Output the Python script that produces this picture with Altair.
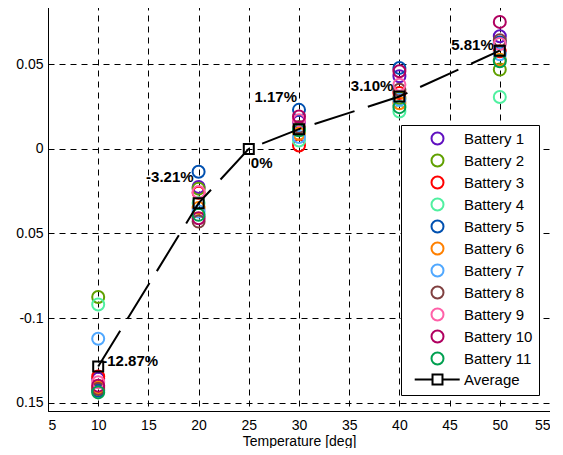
import altair as alt
import pandas as pd

# ---- data ----
temps = [10, 20, 30, 40, 50]
battery_names = [f"Battery {i}" for i in range(1, 12)]
b1 = [-0.1360, -0.0225, 0.0160, 0.0430, 0.0666]
b2 = [-0.0876, -0.0235, 0.0120, 0.0300, 0.0469]
b3 = [-0.1346, -0.0260, 0.0020, 0.0330, 0.0577]
b4 = [-0.0920, -0.0320, 0.0050, 0.0221, 0.0307]
b5 = [-0.1430, -0.0135, 0.0231, 0.0479, 0.0630]
b6 = [-0.1410, -0.0350, 0.0090, 0.0270, 0.0528]
b7 = [-0.1123, -0.0370, 0.0070, 0.0290, 0.0560]
b8 = [-0.1420, -0.0430, 0.0130, 0.0350, 0.0642]
b9 = [-0.1380, -0.0255, 0.0170, 0.0380, 0.0620]
b10 = [-0.1400, -0.0410, 0.0192, 0.0459, 0.0751]
b11 = [-0.1440, -0.0390, 0.0110, 0.0247, 0.0518]
battery_values = [b1, b2, b3, b4, b5, b6, b7, b8, b9, b10, b11]

avg_temps = [10, 20, 25, 30, 40, 50]
avg_vals = [-0.1287, -0.0321, 0.0, 0.0117, 0.0310, 0.0581]
avg_labels = ["-12.87%", "-3.21%", "0%", "1.17%", "3.10%", "5.81%"]

x_ticks = [5, 10, 15, 20, 25, 30, 35, 40, 45, 50, 55]
y_ticks = [-0.15, -0.1, -0.05, 0.0, 0.05]
y_tick_labels = ["0.15", "-0.1", "0.05", "0", "0.05"]

# ---- styles ----
colors = ["#6010C0", "#60A000", "#FF0000", "#50F0A0", "#0050B0", "#FF8000",
          "#50A8FF", "#804040", "#FF60A8", "#B00060", "#00A050"]
avg_path = "M-3.8,0H-0.83M0.83,0H3.7M-0.83,-0.83H0.83V0.83H-0.83Z"
label_style = [  # (align, dx, dy) for each average annotation
    ("left", 4, -6),
    ("right", -5, -26),
    ("left", 2, 14),
    ("right", -2, -32),
    ("right", -6, -10),
    ("right", -6, -6),
]
FONT = "Liberation Sans"

rows = []
for name, vals in zip(battery_names, battery_values):
    for t, v in zip(temps, vals):
        rows.append({"Temperature": t, "Value": v, "Battery": name})
df = pd.DataFrame(rows)
avg_df = pd.DataFrame({"Temperature": avg_temps, "Value": avg_vals, "Label": avg_labels})

label_expr = " : ".join(
    f"datum.value > {v - 0.001} && datum.value < {v + 0.001} ? '{l}'"
    for v, l in zip(y_ticks, y_tick_labels)
) + " : ''"

x_enc = alt.X("Temperature:Q",
              scale=alt.Scale(domain=[5, 55], nice=False, zero=False),
              axis=alt.Axis(values=x_ticks, title="Temperature [deg]", grid=True,
                            ticks=False, labelPadding=7, titlePadding=2,
                            format="d"))
y_enc = alt.Y("Value:Q",
              scale=alt.Scale(domain=[-0.155, 0.0857], nice=False, zero=False),
              axis=alt.Axis(values=y_ticks, title=None, grid=True, ticks=False,
                            labelPadding=5, minExtent=40, maxExtent=40,
                            labelExpr=label_expr))

legend = alt.Legend(title=None, orient="none", legendX=353, legendY=121,
                    strokeColor="black", fillColor="white", padding=6,
                    rowPadding=1, symbolOffset=23, labelOffset=19,
                    labelFontSize=15, labelFont=FONT, labelColor="black",
                    symbolStrokeWidth=2, symbolSize=144, symbolFillColor="transparent")

domain = battery_names + ["Average"]
points = alt.Chart(df).mark_point(filled=False, size=144, strokeWidth=2, opacity=1).encode(
    x=x_enc, y=y_enc,
    color=alt.Color("Battery:N", scale=alt.Scale(domain=domain, range=colors + ["black"]),
                    legend=legend, sort=domain),
    shape=alt.Shape("Battery:N", scale=alt.Scale(domain=domain, range=["circle"] * 11 + [avg_path]),
                    legend=legend, sort=domain),
)

line = alt.Chart(avg_df).mark_line(color="black", strokeWidth=2, strokeDash=[42, 14]).encode(
    x=x_enc, y=y_enc)
squares = alt.Chart(avg_df).mark_point(shape="square", filled=False, size=100, color="black",
                                      strokeWidth=2, opacity=1).encode(x=x_enc, y=y_enc)

texts = []
for i, (align, dx, dy) in enumerate(label_style):
    texts.append(
        alt.Chart(avg_df.iloc[[i]]).mark_text(align=align, dx=dx, dy=dy, fontSize=15,
                                              fontWeight="bold", font=FONT, color="black").encode(
            x=x_enc, y=y_enc, text="Label:N")
    )

chart = alt.layer(points, line, squares, *texts).properties(
    width=502, height=407,
    background="white",
    padding={"left": 0, "top": -4, "right": 0, "bottom": 0},
).configure_view(stroke="black", strokeWidth=1).configure_axis(
    gridColor="black", gridDash=[6, 5], gridWidth=1, gridOpacity=1,
    domainColor="black", domainWidth=1,
    labelFont=FONT, labelFontSize=14, labelColor="black",
    titleFont=FONT, titleFontSize=14, titleFontWeight="normal", titleColor="black",
)

chart.save("out.html", embed_options={"renderer": "svg", "actions": False})
